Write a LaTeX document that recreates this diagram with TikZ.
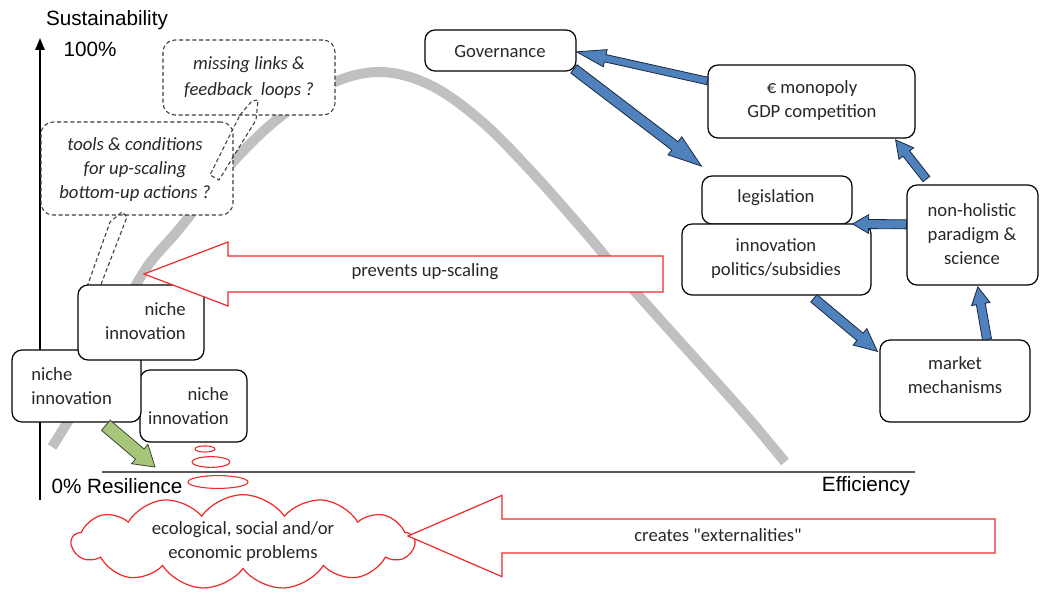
\documentclass[tikz,border=0pt]{standalone}
\usepackage{fontspec}
\setmainfont{Carlito}
\newfontfamily\arialf{Liberation Sans}
\usetikzlibrary{calc,fit,shapes.symbols,arrows.meta}
\definecolor{curvegray}{RGB}{192,192,192}
\definecolor{blfill}{RGB}{79,129,189}
\definecolor{bldraw}{RGB}{25,40,65}
\definecolor{grfill}{RGB}{168,198,122}
\definecolor{grdraw}{RGB}{60,70,50}
\definecolor{redl}{RGB}{240,40,40}
\definecolor{dashc}{RGB}{60,60,60}
\definecolor{txtc}{RGB}{40,40,40}
\definecolor{axgray}{RGB}{90,90,90}
\newcommand{\txt}{\fontsize{14}{18}\selectfont}
\newcommand{\axt}{\arialf\fontsize{15.5}{18}\selectfont}
\newcommand{\fatarrow}[6]{%
  \path ($(#3)!#6!(#2)$) coordinate (fa-h);
  \draw[#1] ($(#2)!#4!90:(#3)$) -- ($(fa-h)!#4!90:(#3)$) -- ($(fa-h)!#5!90:(#3)$) -- (#3)
    -- ($(fa-h)!#5!-90:(#3)$) -- ($(fa-h)!#4!-90:(#3)$) -- ($(#2)!#4!-90:(#3)$) -- cycle;}
\tikzset{
  box/.style={draw=black, line width=0.9pt, rounded corners=7.5pt, fill=white, inner sep=0pt},
  dbox/.style={draw=dashc, line width=0.8pt, dash pattern=on 3pt off 2pt, rounded corners=9pt, fill=white, inner sep=0pt},
  dtail/.style={draw=dashc, line width=0.8pt, dash pattern=on 3pt off 2pt},
  lbl/.style={font=\txt, text=txtc, inner sep=0pt, align=center},
  ilbl/.style={font=\txt\itshape, text=txtc, inner sep=0pt, align=center},
  axlbl/.style={font=\axt, text=black, inner sep=0pt},
  redarrow/.style={draw=redl, line width=0.9pt, fill=white, line join=miter},
  bluearrow/.style={draw=bldraw, line width=0.6pt, fill=blfill, line join=miter},
  greenarrow/.style={draw=grdraw, line width=0.6pt, fill=grfill, line join=miter},
}
\begin{document}
\begin{tikzpicture}[x=0.75pt,y=-0.75pt]
\useasboundingbox[fill=white] (0,0) rectangle (1040,595);
% gray curve
\draw[curvegray, line width=7.5pt, line cap=butt] plot[smooth, tension=0.6] coordinates {(52,447) (80,400) (110,335) (145,270) (180,228) (233,162) (280,117) (330,84) (380,72) (430,85) (480,120) (530,170) (585,232) (625,280) (665,325) (710,375) (750,420) (785,462)};
% axes
\coordinate (yorig) at (40,500);
\coordinate (ytop) at (40,38);
\coordinate (xl) at (102,472);
\coordinate (xr) at (915,472);
\draw[line width=1.1pt, -{Triangle[length=9pt,width=7pt]}] (yorig) -- (ytop);
\draw[line width=1.4pt, axgray] (xl) -- (xr);
\node[axlbl] (sust) at (107,20) {Sustainability};
\node[axlbl] (hundred) at (90,49) {100\%};
\node[axlbl] (resil) at (117,486) {0\% Resilience};
\node[axlbl] (eff) at (866,486) {Efficiency};
% red ellipses
\draw[redl, line width=0.8pt] (205,449) ellipse [x radius=7.5pt, y radius=2.3pt];
\draw[redl, line width=0.8pt] (211,462) ellipse [x radius=14.2pt, y radius=4pt];
\draw[redl, line width=0.8pt] (218,482) ellipse [x radius=22.5pt, y radius=4.8pt];
% cloud
\node[cloud, draw=redl, line width=0.9pt, fill=white, cloud puffs=13, cloud puff arc=110, cloud ignores aspect, minimum width=257pt, minimum height=71pt, inner sep=0pt] (cloud) at (243,542) {};
\node[lbl] (cloudt) at (cloud) {ecological, social and/or\\economic problems};
% creates arrow
\coordinate (crtail) at (995,536);
\coordinate (crtip) at (408,536);
\fatarrow{redarrow}{crtail}{crtip}{12.75pt}{30.5pt}{70.5pt}
\node[lbl] (crtxt) at (718,535) {creates \textquotedbl externalities\textquotedbl};
% dashed boxes
\node[dbox, fit={(163,40) (335,115)}] (missing) {};
\node[ilbl, text depth=0pt] (missingt) at (249,76) {missing links \&\\[1.5pt]feedback\ \ loops ?};
\node[dbox, fit={(41,122) (233,215)}] (tools) {};
\node[ilbl] (toolst) at (135,170) {tools \& conditions\\for up-scaling\\bottom-up actions ?};
\draw[dtail] (240,115) -- (252,101) -- (258,100) -- (256,120) -- (219,180) -- (210,175) -- cycle;
\draw[dtail] (87,287) -- (110,222) -- (122,212) -- (127,217) -- (100,287);
% niche boxes
\node[box, fit={(140,370) (247,442)}] (nC) {};
\node[lbl, anchor=east, align=right] (nCt) at (229,406) {niche\\innovation};
\node[box, fit={(12,350) (141,422)}] (nB) {};
\node[lbl, anchor=west, align=left] (nBt) at (31,386) {niche\\innovation};
\node[box, fit={(78,285) (204,360)}] (nA) {};
\node[lbl, anchor=east, align=right] (nAt) at (186,321) {niche\\innovation};
% prevents arrow
\coordinate (pvtail) at (663,274);
\coordinate (pvtip) at (144,274);
\fatarrow{redarrow}{pvtail}{pvtip}{13.5pt}{24pt}{63pt}
\node[lbl] (pvtxt) at (425,272) {prevents up-scaling};
% green arrow
\coordinate (gs) at ([xshift=22pt,yshift=-2pt]nB.south);
\coordinate (ge) at (155,467);
\fatarrow{greenarrow}{gs}{ge}{5pt}{9.5pt}{15pt}
% right boxes
\node[box, fit={(425,30) (576,71)}] (gov) {};
\node[lbl] (govt) at (500,52) {Governance};
\node[box, fit={(708,65) (915,138)}] (eur) {};
\node[lbl] (eurt) at (812,101) {€\ monopoly\\GDP competition};
\node[box, fit={(702,176) (852,224)}] (leg) {};
\node[lbl] (legt) at (776,198) {legislation};
\node[box, fit={(682,224) (871,295)}] (inn) {};
\node[lbl] (innt) at (776,259) {innovation\\politics/subsidies};
\node[box, fit={(907,185) (1038,285)}] (nonh) {};
\node[lbl] (nonht) at (972,234) {non-holistic\\paradigm \&\\science};
\node[box, fit={(880,340) (1030,422)}] (mkt) {};
\node[lbl] (mktt) at (955,375) {market\\mechanisms};
% blue arrows
\coordinate (a1s) at ([yshift=15.4pt]eur.west);
\coordinate (a1e) at ([yshift=-1pt]gov.east);
\fatarrow{bluearrow}{a1s}{a1e}{2.8pt}{6.6pt}{22pt}
\coordinate (a2s) at ([xshift=-2pt,yshift=2pt]gov.south east);
\coordinate (a2e) at ([yshift=7pt]leg.north west);
\fatarrow{bluearrow}{a2s}{a2e}{3.9pt}{8.5pt}{25pt}
\coordinate (a3s) at ([xshift=15pt,yshift=4pt]nonh.north west);
\coordinate (a3e) at ([xshift=-15pt,yshift=-1pt]eur.south east);
\fatarrow{bluearrow}{a3s}{a3e}{3.2pt}{7pt}{13pt}
\coordinate (a4s) at ([yshift=8pt]nonh.west);
\coordinate (a4e) at ([yshift=0.5pt]leg.south east);
\fatarrow{bluearrow}{a4s}{a4e}{3.4pt}{7pt}{12pt}
\coordinate (a5s) at ([xshift=28pt,yshift=-2pt]inn.south);
\coordinate (a5e) at ([xshift=-1.5pt,yshift=-9pt]mkt.north west);
\fatarrow{bluearrow}{a5s}{a5e}{3.6pt}{8pt}{17pt}
\coordinate (a6s) at ([xshift=24pt]mkt.north);
\coordinate (a6e) at ([xshift=4pt,yshift=-1pt]nonh.south);
\fatarrow{bluearrow}{a6s}{a6e}{3.4pt}{7pt}{13pt}
\end{tikzpicture}
\end{document}
